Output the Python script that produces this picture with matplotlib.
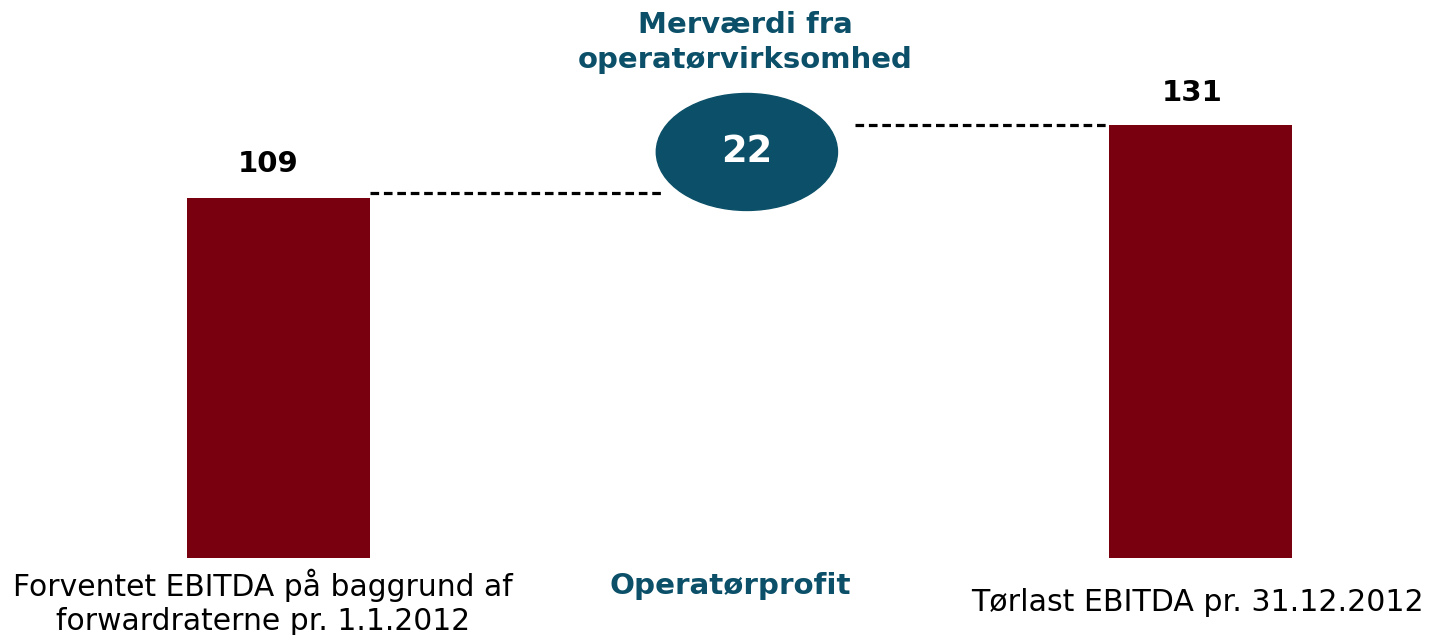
import matplotlib
matplotlib.use("Agg")
import matplotlib.pyplot as plt
from matplotlib.patches import Ellipse

# ---- data ----
categories = ["Forventet EBITDA på baggrund af\nforwardraterne pr. 1.1.2012",
              "Operatørprofit",
              "Tørlast EBITDA pr. 31.12.2012"]
values = [109, 22, 131]
bubble_title = "Merværdi fra\noperatørvirksomhed"

BAR_COLOR = "#78000F"
TEAL = "#0B5068"

plt.rcParams['font.family'] = ['DejaVu Sans']

fig = plt.figure(figsize=(14.32, 6.35), dpi=100)
ax = fig.add_axes([0, 77 / 635, 1, 558 / 635])
ax.set_xlim(-0.604, 2.502)
ax.set_ylim(0, 168.9)
ax.axis('off')

x_pos = [0, 1, 2]
bw = 0.397
start, delta, end = values
ax.bar([x_pos[0], x_pos[2]], [start, end], width=bw, color=BAR_COLOR, zorder=2)

# connector dashed lines
ax.plot([x_pos[0] + bw / 2, 0.834], [start + 1.5, start + 1.5], color='black',
        lw=2.3, dashes=(2.7, 1.5), dash_capstyle='butt')
ax.plot([1.250, x_pos[2] - bw / 2], [end, end], color='black',
        lw=2.3, dashes=(2.7, 1.5), dash_capstyle='butt')

# bubble for delta
ex, ey = x_pos[1] + 0.016, start + delta / 2 + 2.9
ax.add_patch(Ellipse((ex, ey), 0.393, 35.4, color=TEAL, zorder=3))
ax.text(ex, ey, f"{delta}", color='white', fontsize=26.5, fontweight='bold',
        ha='center', va='center', zorder=4)
ax.text(ex - 0.004, 165.5, bubble_title, color=TEAL, fontsize=21,
        fontweight='bold', ha='center', va='top', linespacing=1.3)

# value labels
ax.text(x_pos[0] - 0.022, start + 10.3, f"{start}", fontsize=21, fontweight='bold',
        ha='center', va='center', color='black')
ax.text(x_pos[2] - 0.018, end + 9.8, f"{end}", fontsize=21, fontweight='bold',
        ha='center', va='center', color='black')

# category labels
ax.text(x_pos[0] - 0.033, -13.3, categories[0], fontsize=21.4, ha='center',
        va='center', color='black', linespacing=1.22)
ax.text(x_pos[1] - 0.02, -8.6, categories[1], fontsize=21.2, fontweight='bold',
        ha='center', va='center', color=TEAL)
ax.text(x_pos[2] - 0.006, -13.6, categories[2], fontsize=21.6, ha='center',
        va='center', color='black')

fig.savefig("out.png", dpi=100)
